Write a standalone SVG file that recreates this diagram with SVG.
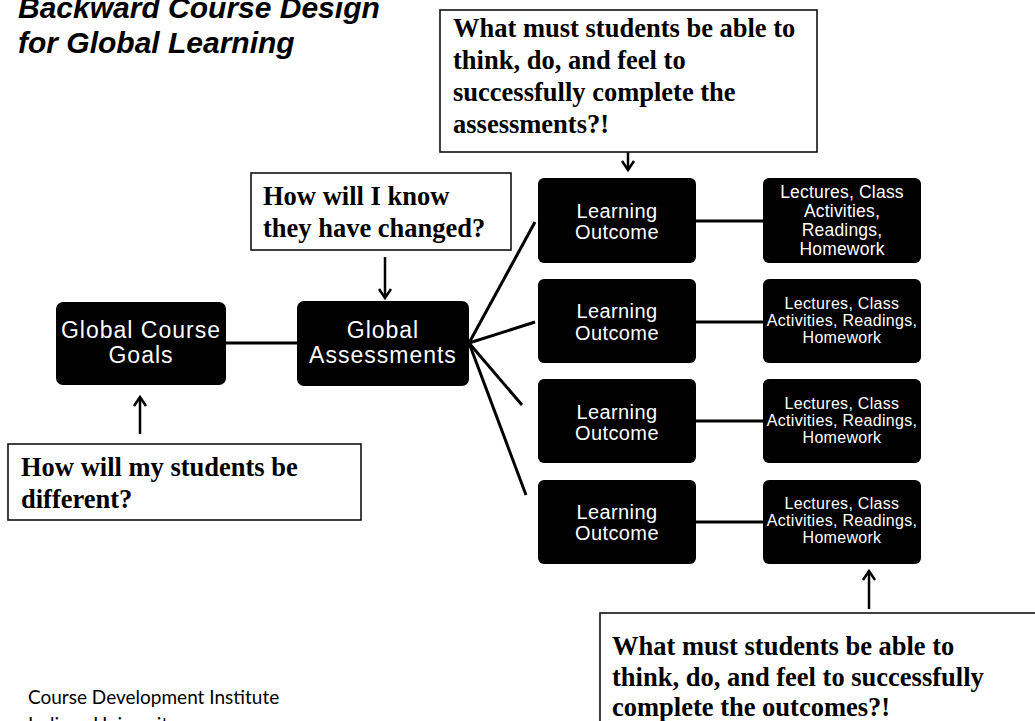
<svg xmlns="http://www.w3.org/2000/svg" width="1035" height="721" viewBox="0 0 1035 721">
<style>
.bg{fill:#ffffff}
.q{fill:#ffffff;stroke:#111;stroke-width:1.6}
.qt{font-family:"Liberation Serif","Times New Roman",serif;font-weight:bold;font-size:26.5px;fill:#000}
.nb{fill:#000}
.big{font-family:"Liberation Sans",Arial,sans-serif;font-size:23px;fill:#fff;text-anchor:middle;letter-spacing:1px}
.lo{font-family:"Liberation Sans",Arial,sans-serif;font-size:20px;fill:#fff;text-anchor:middle;letter-spacing:0.4px}
.act{font-family:"Liberation Sans",Arial,sans-serif;font-size:16px;fill:#fff;text-anchor:middle;letter-spacing:0.3px}
.act1{font-family:"Liberation Sans",Arial,sans-serif;font-size:17.5px;fill:#fff;text-anchor:middle;letter-spacing:0.2px}
.title{font-family:"Liberation Sans",Arial,sans-serif;font-weight:bold;font-style:italic;font-size:30px;fill:#000}
.foot{font-family:Lato,"Liberation Sans",sans-serif;font-size:19px;fill:#000}
.ln{stroke:#000;stroke-width:3;fill:none}
.ar{stroke:#000;stroke-width:2.5;fill:none}
.ah{stroke:#000;stroke-width:2.5;fill:none;stroke-linejoin:miter}
</style>
<rect class="bg" x="0" y="0" width="1035" height="721"/>

<g id="title">
<text class="title" x="18" y="18">Backward Course Design</text>
<text class="title" x="18" y="53">for Global Learning</text>
</g>

<g id="connectors">
<line class="ln" x1="226" y1="343" x2="297" y2="343"/>
<line class="ln" x1="469" y1="343" x2="535" y2="222"/>
<line class="ln" x1="469" y1="343" x2="535" y2="322"/>
<line class="ln" x1="469" y1="343" x2="522" y2="405"/>
<line class="ln" x1="469" y1="343" x2="526" y2="495"/>
<line class="ln" x1="696" y1="221" x2="763" y2="221"/>
<line class="ln" x1="696" y1="322" x2="763" y2="322"/>
<line class="ln" x1="696" y1="421" x2="763" y2="421"/>
<line class="ln" x1="696" y1="522" x2="763" y2="522"/>
<!-- arrows -->
<line class="ar" x1="628" y1="128" x2="628" y2="169"/>
<path class="ah" d="M622,161 L628,170 L634,161"/>
<line class="ar" x1="385" y1="257" x2="385" y2="297"/>
<path class="ah" d="M379,289 L385,298 L391,289"/>
<line class="ar" x1="140" y1="434" x2="140" y2="398"/>
<path class="ah" d="M134,406 L140,397 L146,406"/>
<line class="ar" x1="869" y1="609" x2="869" y2="572"/>
<path class="ah" d="M863,580 L869,571 L875,580"/>
</g>

<g id="q-top">
<rect class="q" x="440" y="10" width="377" height="142"/>
<text class="qt" x="453" y="37">What must students be able to</text>
<text class="qt" x="453" y="69">think, do, and feel  to</text>
<text class="qt" x="453" y="101">successfully complete the</text>
<text class="qt" x="453" y="133">assessments?!</text>
</g>

<g id="q-know">
<rect class="q" x="251" y="173" width="260" height="77"/>
<text class="qt" x="263" y="205">How will I know</text>
<text class="qt" x="263" y="237">they have changed?</text>
</g>

<g id="q-different">
<rect class="q" x="8" y="444" width="353" height="76"/>
<text class="qt" x="21" y="476">How will my students be</text>
<text class="qt" x="21" y="508">different?</text>
</g>

<g id="q-bottom">
<rect class="q" x="600" y="613" width="440" height="120"/>
<text class="qt" x="612" y="655">What must students be able to</text>
<text class="qt" x="612" y="686">think, do, and feel to successfully</text>
<text class="qt" x="612" y="716">complete the outcomes?!</text>
</g>

<g id="goals">
<rect class="nb" x="56" y="302" width="170" height="83" rx="7"/>
<text class="big" x="141" y="338">Global Course</text>
<text class="big" x="141" y="363">Goals</text>
</g>

<g id="assessments">
<rect class="nb" x="297" y="301" width="172" height="85" rx="7"/>
<text class="big" x="383" y="338">Global</text>
<text class="big" x="383" y="363">Assessments</text>
</g>

<g id="lo1">
<rect class="nb" x="538" y="178" width="158" height="85" rx="6"/>
<text class="lo" x="617" y="218">Learning</text>
<text class="lo" x="617" y="239">Outcome</text>
</g>
<g id="lo2">
<rect class="nb" x="538" y="279" width="158" height="84" rx="6"/>
<text class="lo" x="617" y="318">Learning</text>
<text class="lo" x="617" y="340">Outcome</text>
</g>
<g id="lo3">
<rect class="nb" x="538" y="379" width="158" height="84" rx="6"/>
<text class="lo" x="617" y="419">Learning</text>
<text class="lo" x="617" y="440">Outcome</text>
</g>
<g id="lo4">
<rect class="nb" x="538" y="480" width="158" height="84" rx="6"/>
<text class="lo" x="617" y="519">Learning</text>
<text class="lo" x="617" y="540">Outcome</text>
</g>

<g id="act1">
<rect class="nb" x="763" y="178" width="158" height="85" rx="6"/>
<text class="act1" x="842" y="198">Lectures, Class</text>
<text class="act1" x="842" y="217">Activities,</text>
<text class="act1" x="842" y="236">Readings,</text>
<text class="act1" x="842" y="255">Homework</text>
</g>
<g id="act2">
<rect class="nb" x="763" y="279" width="158" height="84" rx="6"/>
<text class="act" x="842" y="309">Lectures, Class</text>
<text class="act" x="842" y="326">Activities, Readings,</text>
<text class="act" x="842" y="343">Homework</text>
</g>
<g id="act3">
<rect class="nb" x="763" y="379" width="158" height="84" rx="6"/>
<text class="act" x="842" y="409">Lectures, Class</text>
<text class="act" x="842" y="426">Activities, Readings,</text>
<text class="act" x="842" y="443">Homework</text>
</g>
<g id="act4">
<rect class="nb" x="763" y="480" width="158" height="84" rx="6"/>
<text class="act" x="842" y="509">Lectures, Class</text>
<text class="act" x="842" y="526">Activities, Readings,</text>
<text class="act" x="842" y="543">Homework</text>
</g>

<g id="footer">
<text class="foot" x="28" y="704">Course Development Institute</text>
<text class="foot" x="28" y="731">Indiana University</text>
</g>
</svg>
